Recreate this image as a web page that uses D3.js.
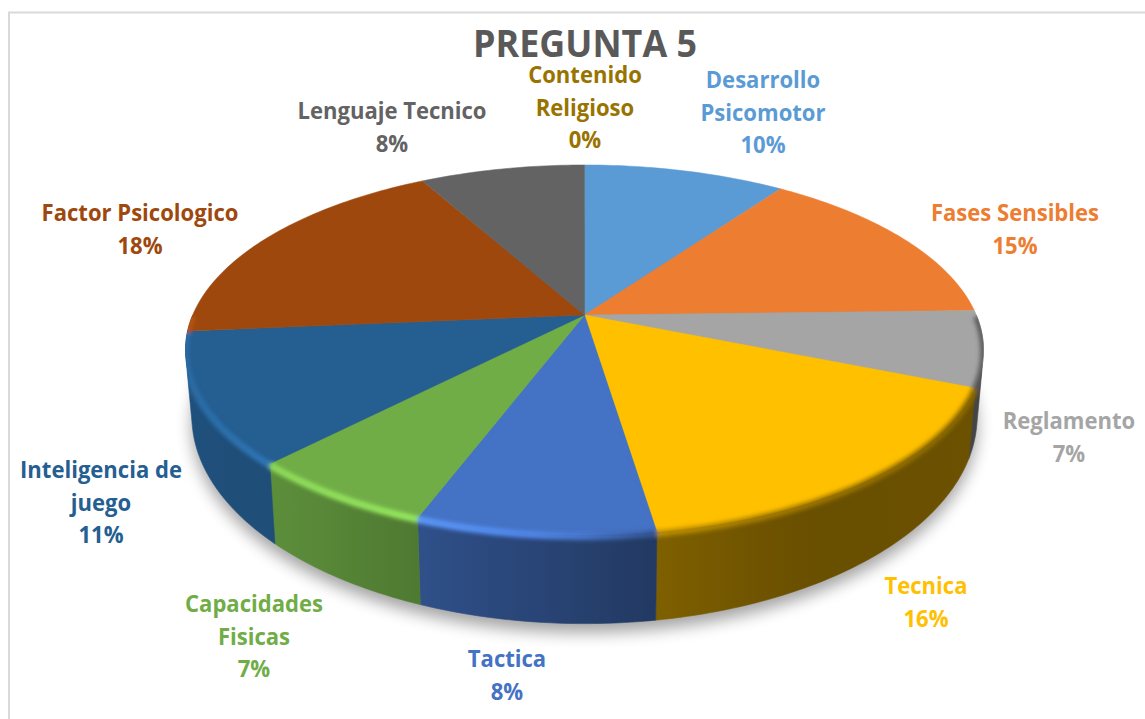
<!DOCTYPE html>
<html><head><meta charset="utf-8">
<script src="https://cdn.jsdelivr.net/npm/d3@7/dist/d3.min.js"></script>
<style>html,body{margin:0;padding:0;background:#fff;overflow:hidden}svg{display:block}text{font-family:"Open Sans",sans-serif;font-weight:700}</style>
</head><body><svg id="c" width="1145" height="719"></svg>
<script>
const categories = ["Desarrollo Psicomotor","Fases Sensibles","Reglamento","Tecnica","Tactica","Capacidades Fisicas","Inteligencia de juego","Factor Psicologico","Lenguaje Tecnico","Contenido Religioso"];
const values = [9.8,14.8,6.6,16.4,8.1,6.5,11.4,18.4,8.0,0.0];
const percentLabels = ["10%","15%","7%","16%","8%","7%","11%","18%","8%","0%"];
const colors = ["#5B9BD5","#ED7D31","#A5A5A5","#FFC000","#4472C4","#70AD47","#255E91","#9E480E","#636363","#997300"];
const chartTitle = "PREGUNTA 5";

// label layout: wrapped lines, centre x, first baseline
const labelLines = [["Desarrollo","Psicomotor"],["Fases Sensibles"],["Reglamento"],["Tecnica"],["Tactica"],["Capacidades","Fisicas"],["Inteligencia de","juego"],["Factor Psicologico"],["Lenguaje Tecnico"],["Contenido","Religioso"]];
const labelX = [763,1015,1069,926,507,254,101,140,392,585];
const labelY = [88,221,429,594,667,612,478,221,119,83];

const svg = d3.select("#c");
const defs = svg.append("defs");
defs.append("filter").attr("id","rimBlur").attr("x","-20%").attr("y","-20%").attr("width","140%").attr("height","140%")
  .append("feGaussianBlur").attr("stdDeviation",2.2);
defs.append("filter").attr("id","shadowBlur").attr("x","-10%").attr("y","-10%").attr("width","120%").attr("height","120%")
  .append("feGaussianBlur").attr("stdDeviation",8);

svg.append("rect").attr("x",9).attr("y",12.5).attr("width",1300).attr("height",900)
  .attr("fill","#fff").attr("stroke","#d9d9d9").attr("stroke-width",2);

// perspective projection of the pie disc
const cx=584.5, cy=315, a=391.8, b=178.4, k=0.189;
const proj = t => { const X=Math.sin(t), Y=Math.cos(t), w=1+k*Y; return [cx+a*X/w, cy-b*Y/w]; };
const down = p => [cx+0.984*(p[0]-cx), 23.9+1.121*p[1]];
const line = d3.line();
const arcPts = (s,e) => { const n=Math.max(2,Math.ceil((e-s)/(Math.PI/180))); return d3.range(n+1).map(i=>proj(s+(e-s)*i/n)); };

const arcs = d3.pie().sort(null).value(d=>d)(values);
const wallShade = d3.scaleLinear().domain([185,276,420,655,800,985]).range([.85,.82,.70,.5,.41,.42]);
const rimShade = d3.scaleLinear().domain([185,276,420,560,655,800,985]).range([1.15,1.3,1.38,1.18,.75,.62,.55]);
const shade = (c,f)=>{const r=d3.rgb(c);return d3.rgb(Math.min(255,r.r*f),Math.min(255,r.g*f),Math.min(255,r.b*f)).formatHex();};
function grad(id,c,x1,x2,fn){
  const g=defs.append("linearGradient").attr("id",id).attr("gradientUnits","userSpaceOnUse")
    .attr("x1",x1).attr("x2",x2).attr("y1",0).attr("y2",0);
  d3.range(7).forEach(i=>{const f=i/6;g.append("stop").attr("offset",f).attr("stop-color",shade(c,fn(x1+(x2-x1)*f)));});
}
const front = d => [Math.max(d.startAngle,Math.PI*.5), Math.min(d.endAngle,Math.PI*1.5)];

// drop shadow under the pie
const allPts = arcPts(0,2*Math.PI).map(down);
svg.append("path").attr("d",line(allPts)+"Z").attr("transform","translate(0,9)").attr("fill","#000").attr("opacity",.36).attr("filter","url(#shadowBlur)");

const clip = defs.append("clipPath").attr("id","pieClip");
clip.append("path").attr("d",line(arcPts(0,2*Math.PI))+"Z");

// side walls
const walls = svg.append("g");
arcs.forEach((d,i)=>{
  const [s,e]=front(d);
  if(e<=s) return;
  const top=arcPts(s,e), bot=top.map(down);
  const hull=d3.polygonHull(top.concat(bot));
  const xs=hull.map(p=>p[0]); const x1=d3.min(xs), x2=d3.max(xs);
  grad("w"+i,colors[i],x1,x2,wallShade);
  const dp=line(hull)+"Z";
  walls.append("path").attr("d",dp).attr("fill",`url(#w${i})`).attr("stroke",`url(#w${i})`).attr("stroke-width",.6);
  clip.append("path").attr("d",dp);
});

// top faces
const tops = svg.append("g");
arcs.forEach((d,i)=>{
  if(d.endAngle-d.startAngle<1e-6) return;
  tops.append("path").attr("d",line([[cx,cy]].concat(arcPts(d.startAngle,d.endAngle)))+"Z").attr("fill",colors[i]).attr("stroke",colors[i]).attr("stroke-width",.5);
});

// bevel along the front rim
const rims = svg.append("g").attr("clip-path","url(#pieClip)").append("g").attr("filter","url(#rimBlur)").attr("transform","translate(0,1.5)");
arcs.forEach((d,i)=>{
  const [s,e]=front(d);
  if(e<=s) return;
  const pts=arcPts(s,e); const xs=pts.map(p=>p[0]); const x1=d3.min(xs), x2=d3.max(xs);
  grad("r"+i,colors[i],x1,x2,rimShade);
  rims.append("path").attr("d",line(pts)).attr("fill","none").attr("stroke",`url(#r${i})`).attr("stroke-width",6.5);
});

// labels
const lh = 32.6;
function put(sel,fit){ const n=sel.node().getComputedTextLength(); sel.attr("textLength",n*fit).attr("lengthAdjust","spacingAndGlyphs"); }
categories.forEach((c,i)=>{
  const lines=labelLines[i].concat([percentLabels[i]]);
  lines.forEach((t,j)=>{
    const el=svg.append("text").attr("x",labelX[i]).attr("y",labelY[i]+j*lh).attr("text-anchor","middle")
      .attr("font-size",22.5).attr("fill",colors[i]).text(t);
    put(el,.98);
  });
});
put(svg.append("text").attr("x",585).attr("y",57).attr("text-anchor","middle").attr("font-size",37).attr("fill","#595959").text(chartTitle),.97);
</script></body></html>
